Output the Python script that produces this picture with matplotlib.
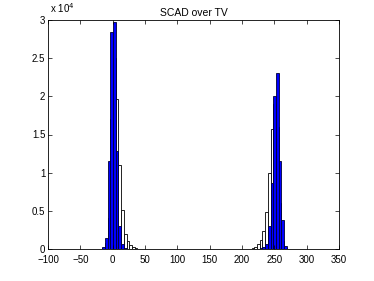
import matplotlib
matplotlib.use("Agg")
import matplotlib.pyplot as plt
import numpy as np

plt.rcParams['font.family'] = ['Liberation Sans', 'DejaVu Sans']

bin_width = 4.2
# Left cluster
left_centers = [-22.6, -18.4, -14.2, -10.0, -5.8, -1.6, 2.6, 6.8, 11.0, 15.2, 19.4, 23.6, 27.8, 32.0, 36.2, 40.4]
left_tv = [10, 30, 150, 800, 4000, 17000, 25000, 19600, 11000, 5100, 2000, 1000, 500, 250, 100, 40]
left_scad = [20, 60, 300, 1500, 11500, 28400, 29700, 12800, 3000, 700, 150, 40, 10, 0, 0, 0]
# Right cluster
right_centers = [208.4, 212.6, 216.8, 221.0, 225.2, 229.4, 233.6, 237.8, 242.0, 246.2, 250.4, 254.6, 258.8, 263.0, 267.2, 271.4]
right_tv = [20, 60, 150, 300, 600, 1200, 2300, 4900, 10000, 15700, 19000, 16000, 6000, 1000, 150, 20]
right_scad = [0, 5, 10, 10, 30, 80, 200, 700, 3000, 8700, 20000, 23100, 11500, 3800, 400, 40]

centers = left_centers + right_centers
tv = left_tv + right_tv
scad = left_scad + right_scad

fig = plt.figure(figsize=(3.74, 2.81), dpi=100)
ax = fig.add_axes([48/374, 1 - 249/281, (339-48)/374, (249-20)/281])

ax.bar(centers, tv, width=bin_width, color='white', edgecolor='black', linewidth=0.6)
ax.bar(centers, scad, width=bin_width, color='#0000ff', edgecolor='#000033', linewidth=0.6)

ax.set_xlim(-100, 350)
ax.set_ylim(0, 30000)
ax.set_xticks(np.arange(-100, 351, 50))
ax.set_xticklabels(['\u2212100', '\u221250', '0', '50', '100', '150', '200', '250', '300', '350'])
ax.set_yticks(np.arange(0, 30001, 5000))
ax.set_yticklabels(['0', '0.5', '1', '1.5', '2', '2.5', '3'])
ax.tick_params(direction='in', top=True, right=True, labelsize=7, length=3, width=0.5)
ax.tick_params(axis='x', pad=4)
ax.tick_params(axis='y', pad=2)
for s in ax.spines.values():
    s.set_linewidth(0.6)
ax.set_title('SCAD over TV', fontsize=7.5, pad=3)
fig.text(50/374, 1 - 15/281, r'x 10$^{4}$', fontsize=7, va='bottom', ha='left')

fig.savefig('out.png', dpi=100)
